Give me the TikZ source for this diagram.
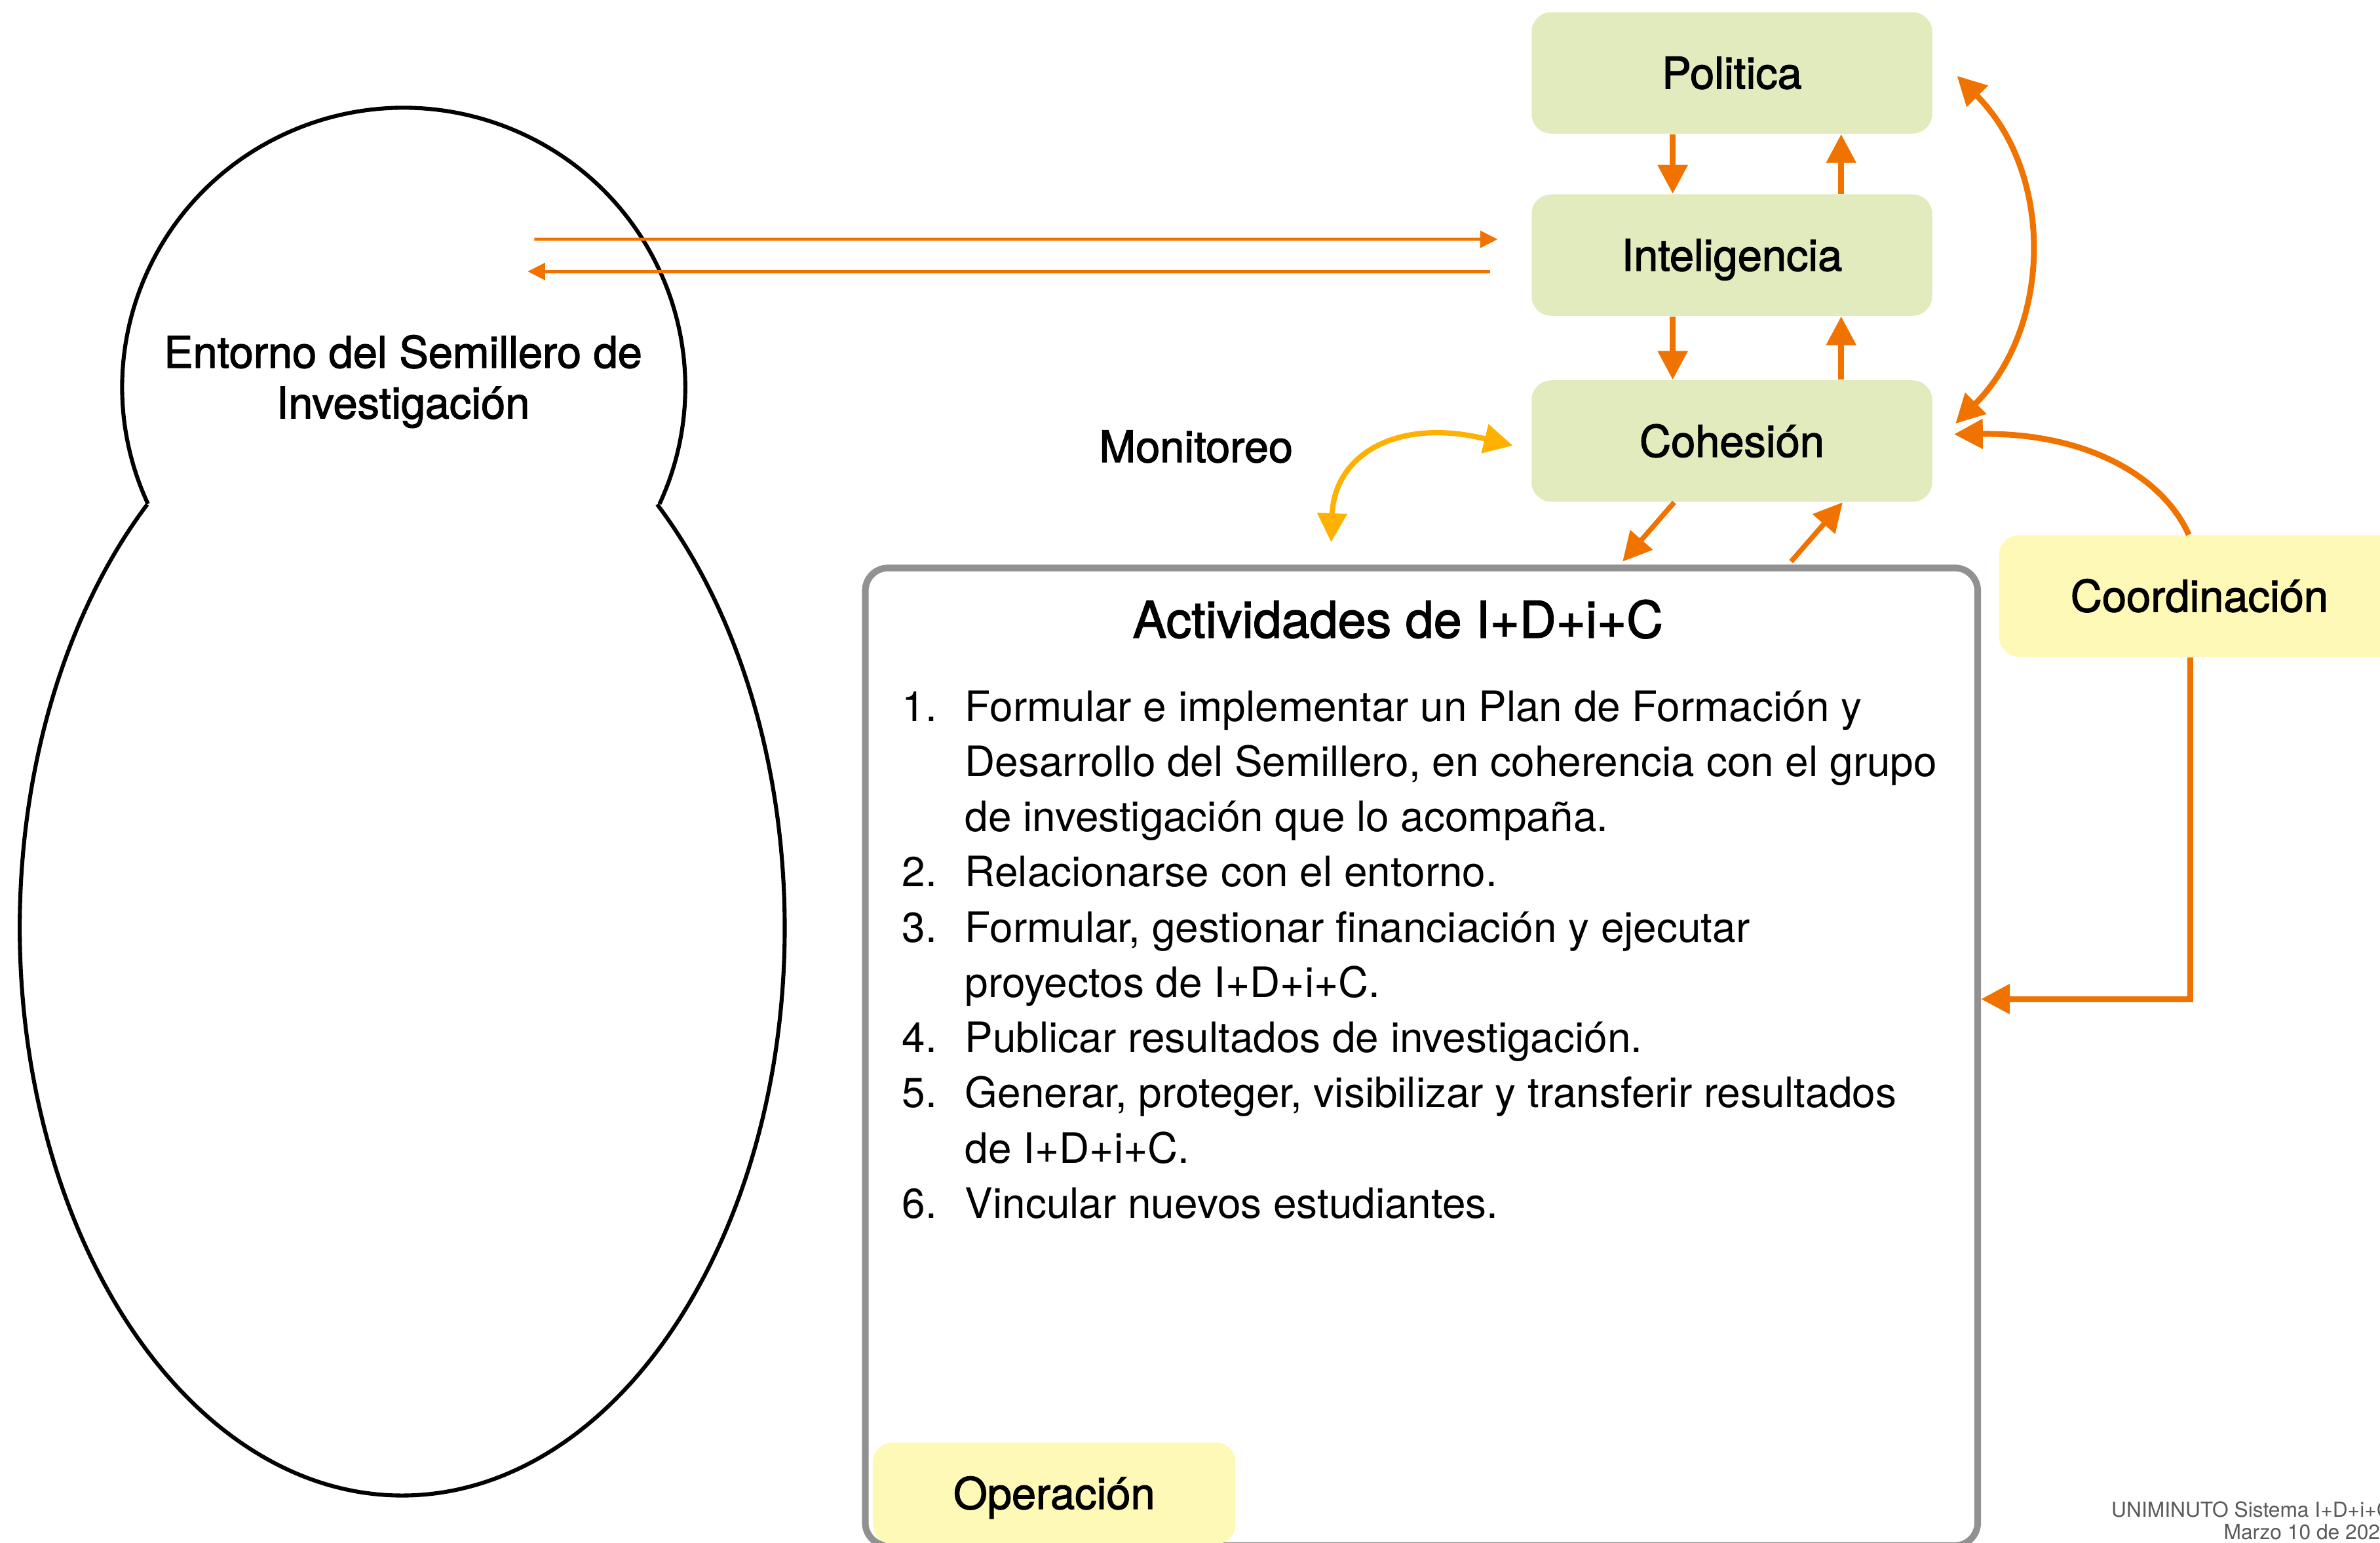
\documentclass[tikz,border=0pt]{standalone}
\usepackage{fontspec}
\setmainfont{TeX Gyre Heros}
\newfontfamily\medio[FakeBold=1.8]{TeX Gyre Heros}
\usepackage{xcolor}
\usepackage{tikz}
\usetikzlibrary{positioning,calc,arrows.meta}

\definecolor{naranja}{HTML}{F07300}
\definecolor{ambar}{HTML}{FEB100}
\definecolor{verdecaja}{HTML}{E2EBBE}
\definecolor{amarillocaja}{HTML}{FEF9B6}
\definecolor{grismarco}{HTML}{919191}
\definecolor{grispie}{HTML}{5A5A5A}

\tikzset{
  nivel/.style={fill=verdecaja, rounded corners=0.26cm, minimum width=5.28cm, minimum height=1.6cm,
    inner sep=0pt, text height=11.8pt, text depth=0pt, font=\medio\fontsize{16.4}{19}\selectfont},
  funcion/.style={nivel, fill=amarillocaja},
  flecha/.style={naranja, line width=2.2pt, -{Triangle[width=0.38cm,length=0.38cm]}},
  flechas/.style={naranja, line width=2.2pt, {Triangle[width=0.38cm,length=0.38cm]}-{Triangle[width=0.38cm,length=0.38cm]}},
  fina/.style={naranja, line width=1.2pt, -{Triangle[width=0.22cm,length=0.23cm]}},
  rotulo/.style={font=\medio\fontsize{16.4}{19}\selectfont}
}

\begin{document}
\begin{tikzpicture}[x=0.02cm, y=-0.02cm]
  \useasboundingbox (0,0) rectangle (1568,1016);
  %\draw [help lines, step=50] (0,0) grid (1568,1016);
  \draw [line width=1.5pt] (266,255) ++(155.3:185.5 and 184) arc [start angle=155.3, end angle=384.7, x radius=185.5, y radius=184];
  \draw [line width=1.5pt] (265,611) ++(-48.2:252 and 374) arc [start angle=-48.2, end angle=228.2, x radius=252, y radius=374];
  \node [rotulo, anchor=base, align=center] (entorno) at (265.5,275.6) {Entorno del Semillero de\\Investigación};

  \node [nivel] (politica) at (1141,48) {Politica};
  \node [nivel] (inteligencia) at (1141,168) {Inteligencia};
  \node [nivel] (cohesion) at (1141,290.5) {Cohesión};
  \node [funcion] (coordinacion) at (1449,392.5) {Coordinación};

  \node [draw=grismarco, line width=2.5pt, rounded corners=0.3cm, minimum width=14.66cm, minimum height=12.88cm] (actividades) at (936.5,696) {};
  \node [anchor=base, font=\medio\fontsize{19}{22}\selectfont] (titulo) at (921,420) {Actividades de I+D+i+C};
  \node [anchor=base west, inner sep=0pt, font=\fontsize{15.7}{20.7}\selectfont] (lista) at (594,475) {%
    \begin{tabular}[t]{@{}p{0.83cm}@{}l@{}}
      1. & Formular e implementar un Plan de Formación y\\
         & Desarrollo del Semillero, en coherencia con el grupo\\
         & de investigación que lo acompaña.\\
      2. & Relacionarse con el entorno.\\
      3. & Formular, gestionar financiación y ejecutar\\
         & proyectos de I+D+i+C.\\
      4. & Publicar resultados de investigación.\\
      5. & Generar, proteger, visibilizar y transferir resultados\\
         & de I+D+i+C.\\
      6. & Vincular nuevos estudiantes.
    \end{tabular}};
  \node [funcion, minimum width=4.78cm, minimum height=1.34cm] (operacion) at (694.5,983.5) {Operación};
  \node [rotulo, anchor=base] (monitoreo) at (788,304.4) {Monitoreo};

  \draw [flecha] ([xshift=-0.78cm]politica.south) -- ([xshift=-0.78cm]inteligencia.north);
  \draw [flecha] ([xshift=1.44cm]inteligencia.north) -- ([xshift=1.44cm]politica.south);
  \draw [flecha] ([xshift=-0.78cm]inteligencia.south) -- ([xshift=-0.78cm]cohesion.north);
  \draw [flecha] ([xshift=1.44cm]cohesion.north) -- ([xshift=1.44cm]inteligencia.south);
  \draw [flechas] ([shift={(16,2)}]politica.east) .. controls +(64,64) and +(64,-64) .. ([shift={(15,-11.5)}]cohesion.east);
  \draw [flecha] ([xshift=-0.14cm]coordinacion.north) .. controls +(-17,-38) and +(88,-1) .. ([shift={(14,-4.5)}]cohesion.east);
  \draw [flecha] ([xshift=-0.12cm]coordinacion.south) |- ([yshift=0.76cm]actividades.east);
  \draw [flechas, ambar, line width=2pt] ([shift={(-59.5,-14.8)}]actividades.north) .. controls +(2,-57) and +(-77,-19) .. ([shift={(-12,3)}]cohesion.west);
  \draw [flecha, line width=1.9pt] ([xshift=-0.76cm]cohesion.south) -- ([shift={(132.5,-2)}]actividades.north);
  \draw [flecha, line width=1.9pt] ([shift={(243.5,-2)}]actividades.north) -- ([xshift=1.46cm]cohesion.south);

  \coordinate (salida) at (352,157.6);
  \coordinate (llegada) at (347.6,178.8);
  \draw [fina] (salida) -- ([shift={(-22,-10.4)}]inteligencia.west);
  \draw [fina] ([shift={(-27,10.8)}]inteligencia.west) -- (llegada);

  \node [anchor=north east, align=right, inner sep=0pt, text=grispie, font=\fontsize{7.8}{8.2}\selectfont] (pie) at (1576,988.8) {UNIMINUTO Sistema I+D+i+C\\Marzo 10 de 202\phantom{0}};
\end{tikzpicture}
\end{document}
